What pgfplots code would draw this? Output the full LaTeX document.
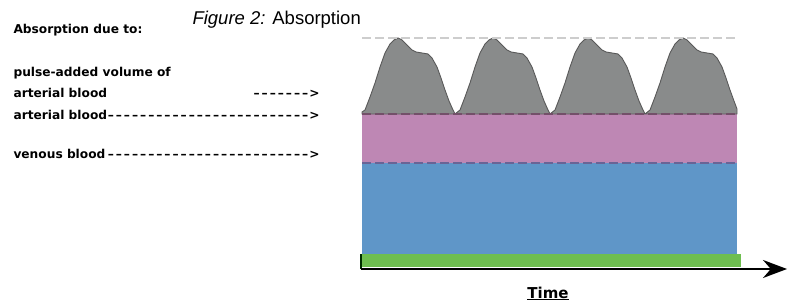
\documentclass[border=0pt]{standalone}
\usepackage{fontspec}
\usepackage{pgfplots}
\pgfplotsset{compat=1.18}
\usetikzlibrary{arrows.meta}
\newfontfamily\lab{DejaVu Sans}[Ligatures=TeXOff]
\newfontfamily\ttl{Liberation Sans}
\definecolor{cblue}{RGB}{95,150,200}
\definecolor{cpink}{RGB}{190,135,180}
\definecolor{cgray}{RGB}{137,139,139}
\definecolor{cgreen}{RGB}{110,190,80}
\definecolor{ctop}{RGB}{205,205,205}
\definecolor{cmid}{RGB}{115,80,105}
\definecolor{clow}{RGB}{105,100,150}
\newcommand\dd{\makebox[8.1bp]{–}}
\newcommand\lf{\lab\bfseries\fontsize{12.2bp}{14bp}\selectfont}
\begin{document}
\begin{tikzpicture}
\begin{axis}[
  width=789bp, height=307bp, scale only axis,
  xmin=0, xmax=789, ymin=-52, ymax=255,
  hide axis, clip=false,
  every node/.style={inner sep=0pt, outer sep=0pt},
]
\path (rel axis cs:0,0) rectangle (rel axis cs:1,1);
% venous blood
\addplot[draw=none, fill=cblue] coordinates {(362,0) (737,0) (737,92) (362,92)} -- cycle;
% arterial blood
\addplot[draw=none, fill=cpink] coordinates {(362,92) (737,92) (737,141) (362,141)} -- cycle;
% pulse-added volume
\addplot[draw=black!65, line width=0.9bp, fill=cgray] coordinates {
(362,141) (362,143) (365,145) (370,158) (375,172) (380,188) (385,202) (390,211) (394,215) (398,217) (402,215) (407,210) (412,205) (416,203) (428,201) (432,197) (437,188) (441,177) (445,165) (449,154) (453,145) (455,141)
(460,145) (465,158) (470,172) (475,188) (480,202) (485,211) (489,215) (493,217) (497,215) (502,210) (507,205) (511,203) (523,201) (527,197) (532,188) (536,177) (540,165) (544,154) (548,145) (550,141)
(555,145) (560,158) (565,172) (570,188) (575,202) (580,211) (584,215) (588,217) (592,215) (597,210) (602,205) (606,203) (618,201) (622,197) (627,188) (631,177) (635,165) (639,154) (643,145) (645,141)
(650,145) (655,158) (660,172) (665,188) (670,202) (675,211) (679,215) (683,217) (687,215) (692,210) (697,205) (701,203) (713,201) (717,197) (722,188) (726,177) (730,165) (734,154) (737,146) (737,141)
} -- cycle;
% dashed level lines
\addplot[ctop, line width=2.2bp, dash pattern=on 9bp off 4bp] coordinates {(362,217) (737,217)};
\addplot[cmid, line width=2.2bp, dash pattern=on 9bp off 4bp] coordinates {(362,141) (737,141)};
\addplot[clow, line width=2.2bp, dash pattern=on 9bp off 4bp] coordinates {(362,92) (737,92)};
% time base
\addplot[draw=none, fill=cgreen] coordinates {(361,-12) (741,-12) (741,1) (361,1)} -- cycle;
\addplot[black!70!green!60!black, line width=1.5bp] coordinates {(361,1) (361,-14)};
\addplot[black, line width=2bp, -{Stealth[length=24bp, width=18bp]}] coordinates {(361,-14) (787,-14)};
% texts
\node[anchor=base west] at (axis cs:189,230) {\ttl\fontsize{18.5bp}{20bp}\selectfont\textit{Figure 2:} Absorption};
\node[anchor=base west] at (axis cs:10,221) {\lf Absorption due to:};
\node[anchor=base west] at (axis cs:10,178) {\lf pulse-added volume of};
\node[anchor=base west] at (axis cs:10,157) {\lf arterial blood};
\node[anchor=base east] at (axis cs:323,157) {\lf\dd\dd\dd\dd\dd\dd\dd>};
\node[anchor=base west] at (axis cs:10,135) {\lf arterial blood};
\node[anchor=base east] at (axis cs:323,135) {\lf\dd\dd\dd\dd\dd\dd\dd\dd\dd\dd\dd\dd\dd\dd\dd\dd\dd\dd\dd\dd\dd\dd\dd\dd\dd>};
\node[anchor=base west] at (axis cs:10,96) {\lf venous blood};
\node[anchor=base east] at (axis cs:323,96) {\lf\dd\dd\dd\dd\dd\dd\dd\dd\dd\dd\dd\dd\dd\dd\dd\dd\dd\dd\dd\dd\dd\dd\dd\dd\dd>};
\node[anchor=base] at (axis cs:548,-43) {\lab\bfseries\fontsize{15bp}{17bp}\selectfont\underline{Time}};
\end{axis}
\end{tikzpicture}
\end{document}
